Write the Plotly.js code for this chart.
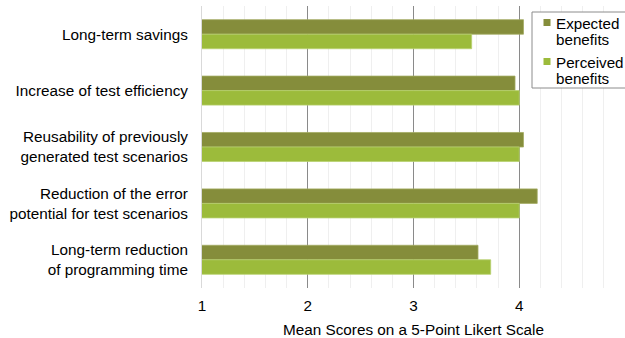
<!DOCTYPE html>
<html>
<head>
<meta charset="utf-8">
<script src="https://cdn.plot.ly/plotly-3.0.1.min.js"></script>
<style>
  html, body { margin: 0; padding: 0; background: #fff; }
  #chart { width: 625px; height: 338px; }
</style>
</head>
<body>
<div id="chart"></div>
<script>
// Benefit categories (top to bottom)
const categories = [
  'Long-term savings',
  'Increase of test efficiency',
  'Reusability of previously<br>generated test scenarios',
  'Reduction of the error<br>potential for test scenarios',
  'Long-term reduction<br>of programming time'
];

// Mean scores on a 5-point Likert scale
const expectedBenefits = [4.04, 3.96, 4.04, 4.17, 3.61];
const perceivedBenefits = [3.55, 4.00, 4.00, 4.00, 3.73];

const seriesNames = ['Expected<br>benefits', 'Perceived<br>benefits'];
const seriesColors = ['#858d3b', '#9cbb3b'];
const seriesEdges = ['#a3ab63', '#b8d070'];
const xTicks = [1, 2, 3, 4, 5];

const seriesValues = [expectedBenefits, perceivedBenefits];

// Bars, one trace per series
const traces = seriesValues.map((vals, i) => ({
  type: 'bar',
  orientation: 'h',
  name: seriesNames[i],
  y: categories,
  x: vals,
  marker: { color: seriesColors[i], line: { color: seriesEdges[i], width: 0.8 } },
  hoverinfo: 'x+y'
}));

// Legend box in the top-right corner, laid out in paper units
const plotTop = 6, plotBottom = 288, plotLeft = 202, plotWidth = 423;
const px = v => (v - plotLeft) / plotWidth;                // horizontal pixel -> paper
const py = v => (plotBottom - v) / (plotBottom - plotTop); // vertical pixel -> paper

const shapes = [{
  type: 'rect', xref: 'paper', yref: 'paper',
  x0: px(532), x1: px(640), y0: py(88), y1: py(12),
  fillcolor: '#ffffff', line: { color: '#8c8c8c', width: 1 }, layer: 'above'
}];
const annotations = [];

const itemTop = [19, 58];   // top of each legend key
const keySize = 7;
const linePitch = 16.3;
seriesNames.forEach((name, i) => {
  shapes.push({
    type: 'rect', xref: 'paper', yref: 'paper',
    x0: px(543.5), x1: px(543.5 + keySize),
    y0: py(itemTop[i] + keySize), y1: py(itemTop[i]),
    fillcolor: seriesColors[i], line: { width: 0 }, layer: 'above'
  });
  name.split('<br>').forEach((line, j) => {
    annotations.push({
      xref: 'paper', yref: 'paper',
      x: px(553.5), y: py(itemTop[i] + 4.3 + j * linePitch),
      xanchor: 'left', yanchor: 'middle',
      text: line, showarrow: false,
      font: { size: 15.2, color: '#000' }
    });
  });
});

const layout = {
  width: 625,
  height: 338,
  margin: { l: 202, r: 0, t: 6, b: 50, autoexpand: false },
  paper_bgcolor: '#ffffff',
  plot_bgcolor: '#ffffff',
  font: { family: '"Liberation Sans", Arial, sans-serif', size: 15.3, color: '#000' },
  barmode: 'group',
  bargap: 0.485,
  bargroupgap: 0,
  showlegend: false,
  shapes: shapes,
  annotations: annotations,
  xaxis: {
    range: [1, 5],
    tickvals: xTicks,
    ticktext: xTicks.map(String),
    showgrid: true,
    gridcolor: '#8a8a8a',
    gridwidth: 1,
    zeroline: false,
    showline: false,
    ticks: '',
    tickfont: { size: 15.3 },
    ticklabelstandoff: 7,
    minor: { dtick: 0.2, tick0: 1, showgrid: true, gridcolor: '#efefef', gridwidth: 1 },
    title: { text: 'Mean Scores on a 5-Point Likert Scale', font: { size: 15.3 }, standoff: 10 },
    fixedrange: true
  },
  yaxis: {
    type: 'category',
    autorange: 'reversed',
    showgrid: false,
    showline: true,
    linecolor: '#d9d9d9',
    linewidth: 1,
    ticks: '',
    ticklabelstandoff: 10,
    tickfont: { size: 15.3 },
    fixedrange: true
  }
};

Plotly.newPlot('chart', traces, layout, { displayModeBar: false, staticPlot: true });
</script>
</body>
</html>
